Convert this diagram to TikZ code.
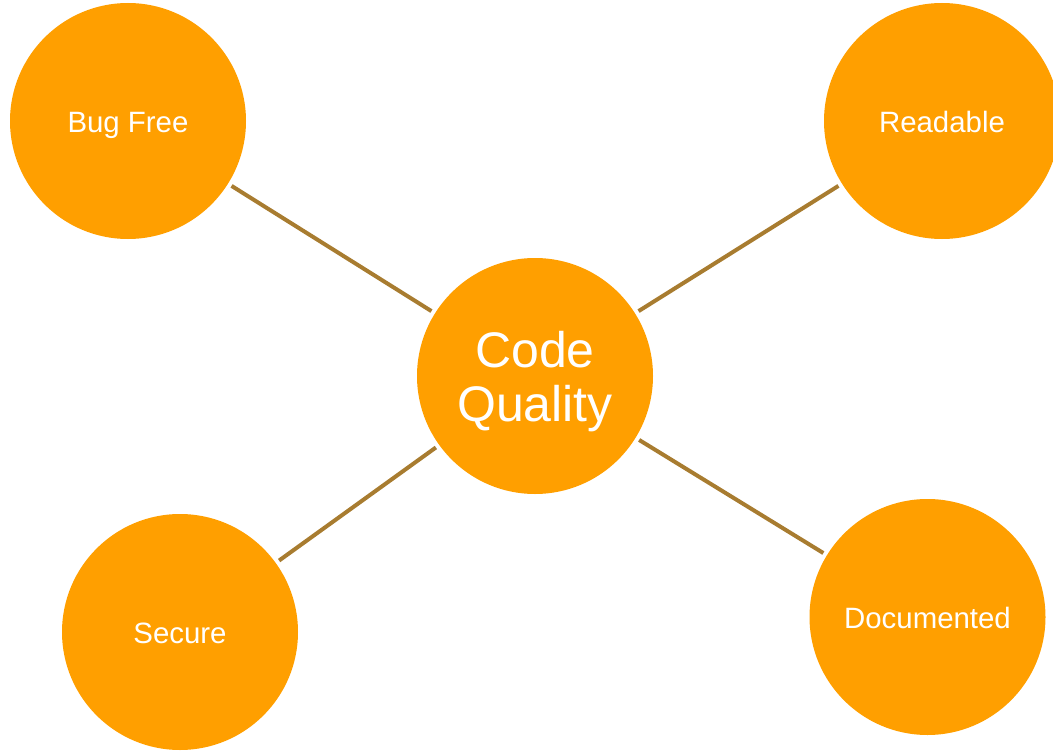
\documentclass[tikz,border=0pt]{standalone}
\usepackage{fontspec}
\setmainfont{Liberation Sans}
\definecolor{orb}{RGB}{255,159,0}
\definecolor{link}{RGB}{168,124,48}
\begin{document}
\begin{tikzpicture}[x=1pt,y=-1pt,
  bubble/.style={circle,fill=orb,draw=none,minimum size=236pt,inner sep=0pt,text=white,align=center,font=\fontsize{29.4}{32}\selectfont,text height=23pt,text depth=0pt},
  hub/.style={circle,fill=orb,draw=none,minimum size=236pt,inner sep=0pt,text=white,align=center,font=\fontsize{50}{54}\selectfont,text depth=-6pt},
  link/.style={draw=link,line width=4pt,shorten <=4pt,shorten >=4pt}]
\useasboundingbox (0,0) rectangle (1053,752);
\node[bubble] (bug) at (128,121) {Bug Free};
\node[bubble] (read) at (942,121) {Readable};
\node[hub] (cq) at (535,376) {Code\\Quality};
\node[bubble] (sec) at (180,632) {Secure};
\node[bubble] (doc) at (927.5,617) {Documented};
\draw[link] (bug) -- (cq);
\draw[link] (read) -- (cq);
\draw[link] (sec) -- (cq);
\draw[link] (doc) -- (cq);
\end{tikzpicture}
\end{document}
